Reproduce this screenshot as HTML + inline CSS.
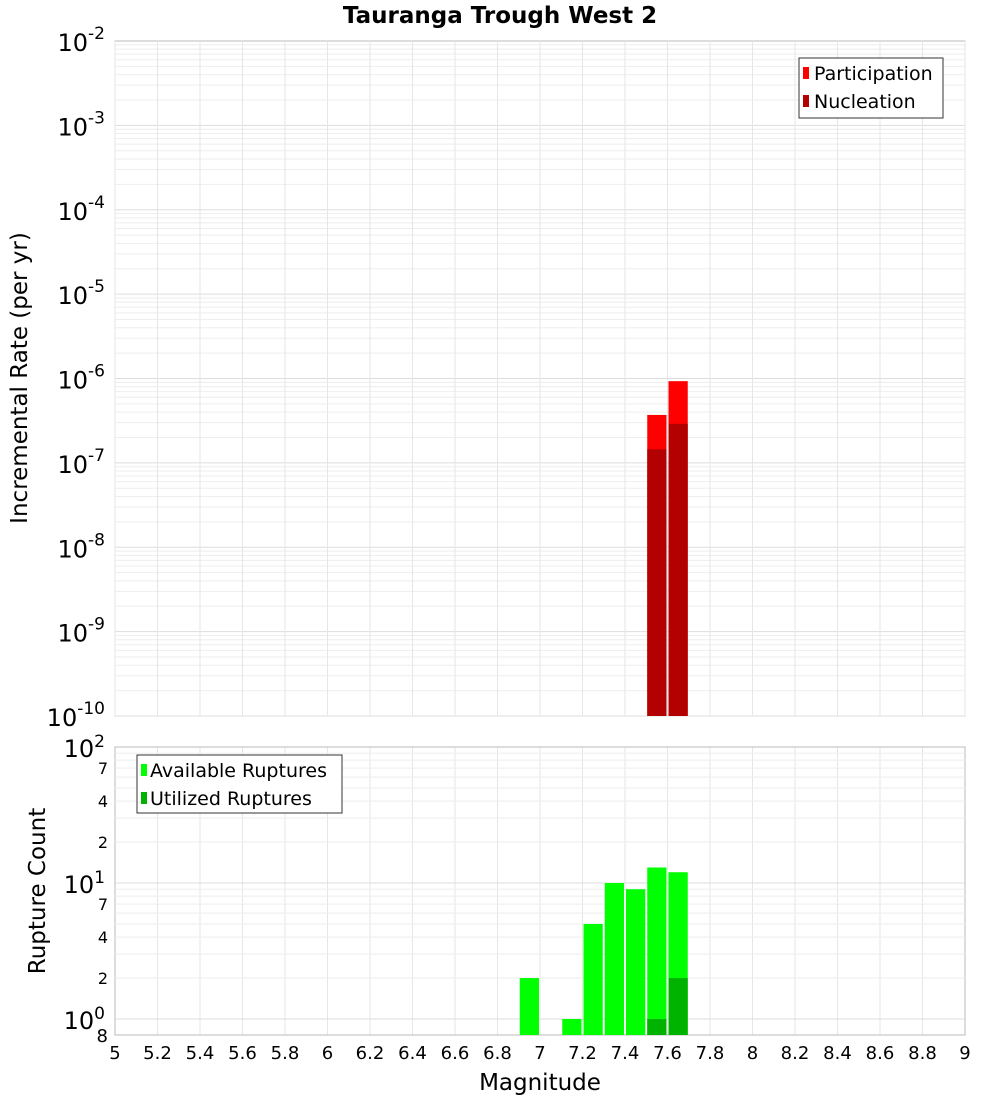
<!DOCTYPE html>
<html><head><meta charset="utf-8"><style>
body{margin:0;background:#fff;}
svg text{font-family:"DejaVu Sans","Liberation Sans",sans-serif;}
</style></head><body>
<svg id="c" width="1000" height="1100" xmlns="http://www.w3.org/2000/svg"></svg>
<script>
const magBins=[7.55,7.65];
const participation=[3.7e-7,9.3e-7];
const nucleation=[1.45e-7,2.9e-7];
const countBins=[6.95,7.15,7.25,7.35,7.45,7.55,7.65];
const available=[2,1,5,10,9,13,12];
const utilBins=[7.55,7.65];
const utilized=[1,2];
const xTicks=[5,5.2,5.4,5.6,5.8,6,6.2,6.4,6.6,6.8,7,7.2,7.4,7.6,7.8,8,8.2,8.4,8.6,8.8,9];
const topExp=[-2,-3,-4,-5,-6,-7,-8,-9,-10];
const botMinor=[{v:70,t:'7'},{v:40,t:'4'},{v:20,t:'2'},{v:7,t:'7'},{v:4,t:'4'},{v:2,t:'2'}];

const svg=document.getElementById('c');const NS='http://www.w3.org/2000/svg';
function el(tag,attrs,parent){const e=document.createElementNS(NS,tag);for(const k in attrs)e.setAttribute(k,attrs[k]);(parent||svg).appendChild(e);return e;}
const X0=115,X1=965;
const xs=v=>X0+(v-5)/4*(X1-X0);
const T0=41,T1=716;
const yt=v=>T0+(-2-Math.log10(v))/8*(T1-T0);
const B0=747,B1=1035;
const bDec=136;
const yb=v=>B0+(2-Math.log10(v))*bDec;

let t=el('text',{x:500,y:23,'text-anchor':'middle','font-size':23,'font-weight':'bold'});t.textContent='Tauranga Trough West 2';


let r=el('rect',{x:X0,y:T0,width:X1-X0,height:T1-T0,fill:'#fff',stroke:'#bbb'});

for(let e=-10;e<-2;e++){for(let m=1;m<10;m++){const y=yt(m*Math.pow(10,e));el('line',{x1:X0,x2:X1,y1:y,y2:y,stroke:m==1?'#ddd':'#eee','stroke-width':1});}}
for(const v of xTicks){const x=xs(v);el('line',{x1:x,x2:x,y1:T0,y2:T1,stroke:'#e6e6e6'});el('line',{x1:x,x2:x,y1:B0,y2:B1,stroke:'#e6e6e6'});}
for(const e of topExp){const y=yt(Math.pow(10,e));const g=el('text',{x:105,y:y+10,'text-anchor':'end','font-size':24});

g.innerHTML='10<tspan dy="-12" font-size="17">'+e+'</tspan>';}
for(let i=0;i<magBins.length;i++){const x=xs(magBins[i]-0.05)+1,w=xs(magBins[i]+0.05)-xs(magBins[i]-0.05)-2;
let b=el('rect',{x:x,y:yt(participation[i]),width:w,height:T1-yt(participation[i]),fill:'#ff0000'});

b=el('rect',{x:x,y:yt(nucleation[i]),width:w,height:T1-yt(nucleation[i]),fill:'#b30000'});
}
let yl=el('text',{x:0,y:0,transform:'translate(27,378) rotate(-90)','text-anchor':'middle','font-size':23});yl.textContent='Incremental Rate (per yr)';

let lg=el('g',{});
el('rect',{x:799,y:58,width:144,height:60,fill:'#fff',stroke:'#333'},lg);
el('rect',{x:803,y:67,width:6,height:12,fill:'#ff0000'},lg);
el('rect',{x:803,y:95,width:6,height:12,fill:'#b30000'},lg);
let lt=el('text',{x:814,y:80,'font-size':19},lg);lt.textContent='Participation';
lt=el('text',{x:814,y:108,'font-size':19},lg);lt.textContent='Nucleation';

r=el('rect',{x:X0,y:B0,width:X1-X0,height:B1-B0,fill:'none',stroke:'#bbb'});

for(const d of [1,10]){for(let m=1;m<10;m++){const y=yb(m*d);if(y<=B1)el('line',{x1:X0,x2:X1,y1:y,y2:y,stroke:m==1?'#ddd':'#eee'});}}
for(const e of [2,1,0]){const y=yb(Math.pow(10,e));const g=el('text',{x:105,y:y+10,'text-anchor':'end','font-size':24});

g.innerHTML='10<tspan dy="-10" font-size="17">'+e+'</tspan>';}
for(const m of botMinor){const g=el('text',{x:108,y:yb(m.v)+6,'text-anchor':'end','font-size':16});g.textContent=m.t;
}
let g8=el('text',{x:108,y:1042,'text-anchor':'end','font-size':18});g8.textContent='8';
for(let i=0;i<countBins.length;i++){const x=xs(countBins[i]-0.05)+1,w=xs(countBins[i]+0.05)-xs(countBins[i]-0.05)-2;
const b=el('rect',{x:x,y:yb(available[i]),width:w,height:B1-yb(available[i]),fill:'#00ff00'});
}
for(let i=0;i<utilBins.length;i++){const x=xs(utilBins[i]-0.05)+1,w=xs(utilBins[i]+0.05)-xs(utilBins[i]-0.05)-2;
const b=el('rect',{x:x,y:yb(utilized[i]),width:w,height:B1-yb(utilized[i]),fill:'#00b300'});
}
yl=el('text',{x:0,y:0,transform:'translate(45,891) rotate(-90)','text-anchor':'middle','font-size':23});yl.textContent='Rupture Count';

lg=el('g',{});
el('rect',{x:137,y:755,width:205,height:58,fill:'#fff',stroke:'#333'},lg);
el('rect',{x:141,y:764,width:6,height:12,fill:'#00ff00'},lg);
el('rect',{x:141,y:792,width:6,height:12,fill:'#00b300'},lg);
lt=el('text',{x:150,y:777,'font-size':19},lg);lt.textContent='Available Ruptures';
lt=el('text',{x:150,y:805,'font-size':19},lg);lt.textContent='Utilized Ruptures';

for(const v of xTicks){const g=el('text',{x:xs(v),y:1059,'text-anchor':'middle','font-size':18});g.textContent=String(v);
}
let xl=el('text',{x:540,y:1090,'text-anchor':'middle','font-size':23});xl.textContent='Magnitude';

</script>
</body></html>
